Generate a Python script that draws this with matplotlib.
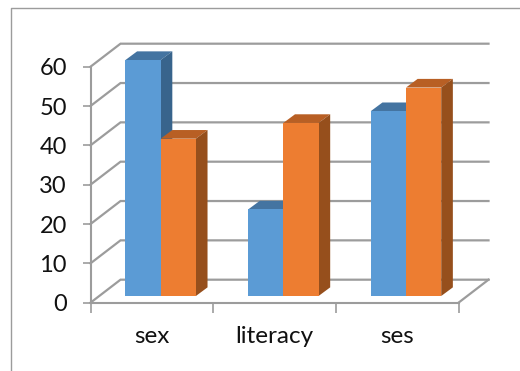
import matplotlib
matplotlib.use("Agg")
import matplotlib.pyplot as plt
from matplotlib.lines import Line2D
from matplotlib.patches import Polygon

plt.rcParams["font.family"] = ["Lato", "DejaVu Sans"]

categories = ["sex", "literacy", "ses"]
series_a = [60, 22, 47]
series_b = [40, 44, 53]
y_ticks = [0, 10, 20, 30, 40, 50, 60]

W, H = 520, 371
GRAY = "#9c9c9c"

# oblique projection, everything stays in data units of the front plane
wall_dx, wall_dy = 0.2446, 5.85
bar_w = 0.287
bar_dx, bar_dy = 0.095, 2.2     # side/top faces
gap_dx, gap_dy = 0.072, 1.7     # bars stand a bit behind the front edge

fig = plt.figure(figsize=(W / 100, H / 100), dpi=100)
ax = fig.add_axes([90.5 / W, 1 - 302.7 / H, 368 / W, 236 / H])
ax.set_xlim(0, 3)
ax.set_ylim(0, 60)
ax.patch.set_visible(False)

for s in ["top", "right"]:
    ax.spines[s].set_visible(False)
for s in ["left", "bottom"]:
    ax.spines[s].set_color(GRAY)
    ax.spines[s].set_linewidth(1.5)

ax.set_yticks(y_ticks)
ax.tick_params(axis="y", length=6, width=1.2, color=GRAY, labelsize=17, pad=11,
               labelcolor="#111111")
ax.set_xticks([0, 1, 2, 3])
ax.set_xticklabels([])
ax.tick_params(axis="x", which="major", length=7, width=1.2, color=GRAY)
ax.set_xticks([0.5, 1.5, 2.5], categories, minor=True)
ax.tick_params(axis="x", which="minor", length=0, labelsize=17.5, pad=17,
               labelcolor="#111111")

# back wall gridlines and the diagonals on the left wall
for v in y_ticks:
    ax.plot([0, wall_dx, 3 + wall_dx], [v, v + wall_dy, v + wall_dy],
            color=GRAY, lw=1.6, clip_on=False, zorder=1, solid_joinstyle="miter")
# right edge of the floor
ax.plot([3, 3 + wall_dx], [0, wall_dy], color=GRAY, lw=1.6, clip_on=False, zorder=1)


def draw_bar(x, value, front, top, side, z):
    x0 = x + gap_dx
    y1 = value + gap_dy
    ax.bar(x0, value, width=bar_w, bottom=gap_dy, align="edge", color=front,
           linewidth=0, zorder=z + 0.2, clip_on=False)
    x1 = x0 + bar_w
    ax.add_patch(Polygon([(x0, y1), (x0 + bar_dx, y1 + bar_dy),
                          (x1 + bar_dx, y1 + bar_dy), (x1, y1)],
                         closed=True, facecolor=top, edgecolor="none",
                         zorder=z, clip_on=False))
    ax.add_patch(Polygon([(x1, y1), (x1 + bar_dx, y1 + bar_dy),
                          (x1 + bar_dx, gap_dy + bar_dy), (x1, gap_dy)],
                         closed=True, facecolor=side, edgecolor="none",
                         zorder=z, clip_on=False))


for i in range(len(categories)):
    left = i + 0.5 - bar_w
    draw_bar(left, series_a[i], "#5b9bd5", "#4474a1", "#38648c", 3 + i)
    draw_bar(left + bar_w, series_b[i], "#ed7d31", "#b85f24", "#964f1c", 3.5 + i)

# chart frame, only top and left edges show
fig.add_artist(Line2D([10.5 / W, 10.5 / W, 1], [0, 1 - 7.5 / H, 1 - 7.5 / H],
                      color="#9c9c9c", lw=1.0))

fig.savefig("out.png", dpi=100)
